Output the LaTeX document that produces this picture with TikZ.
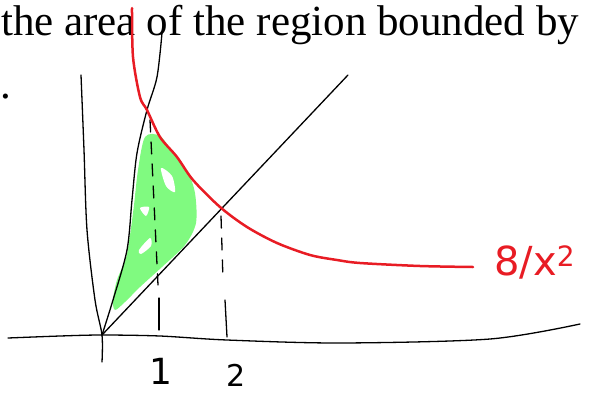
\documentclass[tikz,border=0pt]{standalone}
\usepackage{fontspec}
\setmainfont{Liberation Serif}
\newfontfamily\handfont{DejaVu Sans}
\usepackage{xcolor}
\usepackage{tikz}
\usetikzlibrary{positioning}
\definecolor{penred}{RGB}{232,28,36}
\definecolor{blobgreen}{RGB}{128,250,128}

\begin{document}
\begin{tikzpicture}[
      x=1pt, y=-1pt,
      pen/.style={line width=1.3pt, line cap=round, line join=round},
      redpen/.style={line width=2.5pt, draw=penred, line cap=round, line join=round},
      guide/.style={pen, dash pattern=on 12pt off 10pt},
      hand/.style={inner sep=0pt, font=\handfont\fontsize{30}{30}\selectfont}
    ]
      \useasboundingbox (0,0) rectangle (589,394);
      \node[anchor=base west, inner sep=0pt, font=\fontsize{43}{43}\selectfont] (title) at (1,35) {the area of the region bounded by};
      \node[anchor=base west, inner sep=0pt, font=\fontsize{43}{43}\selectfont] (stop) at (0,98) {.};

      \fill[blobgreen] plot[smooth cycle] coordinates {(145,137) (160,136) (173,153) (188,173) (195,193) (196,223) (185,245) (162,267) (140,287) (125,302) (115,310) (113,300) (117,280) (126,258) (130,235) (134,205) (138,170)};
      \fill[white] plot[smooth cycle] coordinates {(161,168) (172,176) (175,192) (166,186)};
      \fill[white] plot[smooth cycle] coordinates {(140,208) (149,207) (146,216)};
      \fill[white] plot[smooth cycle] coordinates {(139,250) (150,238) (151,246) (141,254)};

      \draw[pen] plot[smooth] coordinates {(81,75) (84,150) (87,230) (95,300) (102,335) (102,362)};
      \draw[pen] plot[smooth] coordinates {(8,338) (60,336) (102,335) (160,336) (227,340) (340,343) (490,339) (580,324)};
      \draw[pen] (102,335) -- (348,75);
      \draw[pen] plot[smooth] coordinates {(102,335) (113,300) (127,250) (132,200) (137,153) (147,110) (157,77) (162,33)};

      \draw[guide] (150,120) -- (158,285);
      \draw[pen] (159,298) -- (159,330);
      \draw[guide] (221,216) -- (223,280);
      \draw[pen] (225,300) -- (227,337);

      \draw[redpen] plot[smooth] coordinates {(132,8) (133,57) (140,97) (147,110) (160,137) (177,157) (193,180) (220,207) (247,227) (277,243) (310,255) (337,260) (360,263) (420,266) (473,267)};

      \node[hand, font=\handfont\fontsize{36}{36}\selectfont] (one) at (161,371) {1};
      \node[hand] (two) at (236,375) {2};
      \node[hand, text=penred, anchor=west, font=\handfont\fontsize{40}{40}\selectfont] (curve) at (494,262) {8/x\textsuperscript{2}};
    \end{tikzpicture}
\end{document}
